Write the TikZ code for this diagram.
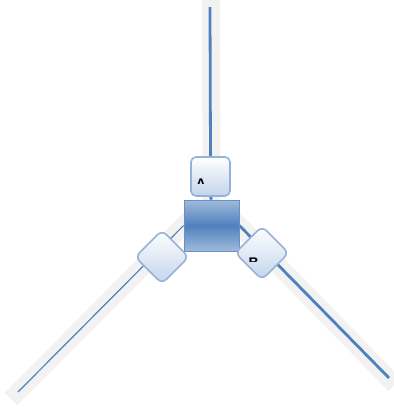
\documentclass[tikz,border=0pt]{standalone}
\usepackage{fontspec}
\setmainfont{Liberation Sans}
\usetikzlibrary{shapes.geometric,backgrounds,calc}
\definecolor{lineblue}{HTML}{4F81BD}
\definecolor{edgeblue}{HTML}{95B3D7}
\definecolor{fillblue}{HTML}{C3D4EB}
\definecolor{hubedge}{HTML}{6A8FC8}
\definecolor{bandgray}{HTML}{F2F2F2}
\tikzset{
  portbox/.style={draw=edgeblue, line width=1.6pt, rounded corners=5pt, top color=white, bottom color=fillblue, minimum width=39pt, minimum height=39pt, inner sep=0pt},
  portdiamond/.style={diamond, aspect=1, draw=edgeblue, line width=1.6pt, rounded corners=6pt, top color=white, bottom color=fillblue, minimum width=54pt, minimum height=54pt, inner sep=0pt},
  hubbox/.style={draw=hubedge, line width=0.8pt, top color=edgeblue!90, bottom color=edgeblue!90, middle color=lineblue, minimum width=55pt, minimum height=51pt, inner sep=0pt},
  band/.style={draw=bandgray, line width=18pt},
  wire/.style={draw=lineblue, line width=2.8pt},
  thinwire/.style={draw=lineblue, line width=1.2pt},
  lbl/.style={font=\bfseries\fontsize{14}{14}\selectfont, inner sep=0pt, anchor=base west}
}
\begin{document}
\begin{tikzpicture}[x=1pt,y=-1pt]
\useasboundingbox (0,0) rectangle (394,408);
\coordinate (topend) at (210,7);
\coordinate (leftend) at (18,392);
\coordinate (rightend) at (389,378);
\coordinate (topband) at (211,0);
\coordinate (leftband) at (11,399);
\coordinate (rightband) at (395,385);
\node[hubbox] (hub) at (211.5,225.5) {};
\node[portbox] (A) at (210.5,176.5) {};
\node[portdiamond] (C) at (162,257) {};
\node[portdiamond] (B) at (262,253) {};
\begin{scope}
\clip (185,170) rectangle (236,183.5);
\node[lbl] (la) at (195.6,188.0) {A};
\end{scope}
\begin{scope}
\clip (240,245) rectangle (280,261.8);
\node[lbl] (lb) at (248.4,267.0) {B};
\end{scope}
\begin{scope}[on background layer]
\draw[band] (topband) -- (hub.center);
\draw[band] (leftband) -- ($(leftband)!1.12!(hub.west)$);
\draw[band] (rightband) -- ($(rightband)!1.12!(hub.east)$);
\draw[wire] (topend) -- (A.north);
\draw[wire] (A.south) -- (hub.north);
\draw[thinwire] (leftend) -- (hub.west);
\draw[wire] (hub.east) -- (rightend);
\end{scope}
\end{tikzpicture}
\end{document}
